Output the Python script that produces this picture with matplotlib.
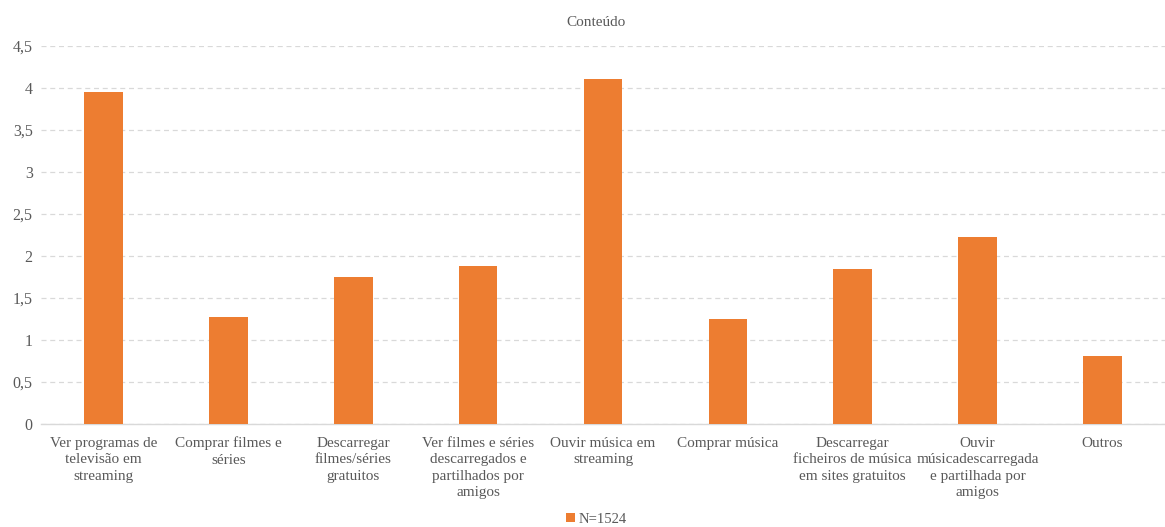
import matplotlib
matplotlib.use("Agg")
import matplotlib.pyplot as plt
from matplotlib.ticker import FuncFormatter

categories = [
    "Ver programas de\ntelevisão em\nstreaming",
    "Comprar filmes e\nséries",
    "Descarregar\nfilmes/séries\ngratuitos",
    "Ver filmes e séries\ndescarregados e\npartilhados por\namigos",
    "Ouvir música em\nstreaming",
    "Comprar música",
    "Descarregar\nficheiros de música\nem sites gratuitos",
    "Ouvir\nmúsicadescarregada\ne partilhada por\namigos",
    "Outros",
]
values = [3.95, 1.27, 1.75, 1.88, 4.11, 1.25, 1.84, 2.23, 0.81]
series_name = "N=1524"
title = "Conteúdo"

plt.rcParams['font.family'] = ['Liberation Serif', 'DejaVu Serif']

fig = plt.figure(figsize=(11.65, 5.27), dpi=100)
ax = fig.add_axes([0.0352, 0.1954, 0.9648, 0.7173])

bar_color = "#ED7D31"
text_color = "#595959"
x = list(range(len(categories)))
ax.bar(x, values, width=0.31, color=bar_color, label=series_name, zorder=3)

ax.set_xlim(-0.5, len(categories) - 0.5)
ax.set_ylim(0, 4.5)
ax.set_yticks([0, 0.5, 1, 1.5, 2, 2.5, 3, 3.5, 4, 4.5])
ax.yaxis.set_major_formatter(FuncFormatter(lambda v, p: (f"{v:g}").replace(".", ",")))
ax.grid(axis='y', color="#D9D9D9", linestyle=(0, (4, 3)), linewidth=0.9, zorder=0)
for s in ['top', 'right', 'left']:
    ax.spines[s].set_visible(False)
ax.spines['bottom'].set_color("#D9D9D9")
ax.spines['bottom'].set_linewidth(1.0)
ax.tick_params(axis='both', length=0, colors=text_color)
ax.tick_params(axis='y', pad=6, labelsize=11.5)
ax.tick_params(axis='x', pad=9, labelsize=11)
ax.set_xticks(x)
ax.set_xticklabels(categories, linespacing=1.36)

fig.text(0.512, 0.958, title, ha='center', va='center', fontsize=11, color=text_color)

leg = fig.legend(loc='center', bbox_to_anchor=(0.512, 0.015), frameon=False,
                 fontsize=10.5, handlelength=0.6, handleheight=0.6, handletextpad=0.3,
                 labelcolor=text_color)

fig.savefig("out.png", dpi=100)
